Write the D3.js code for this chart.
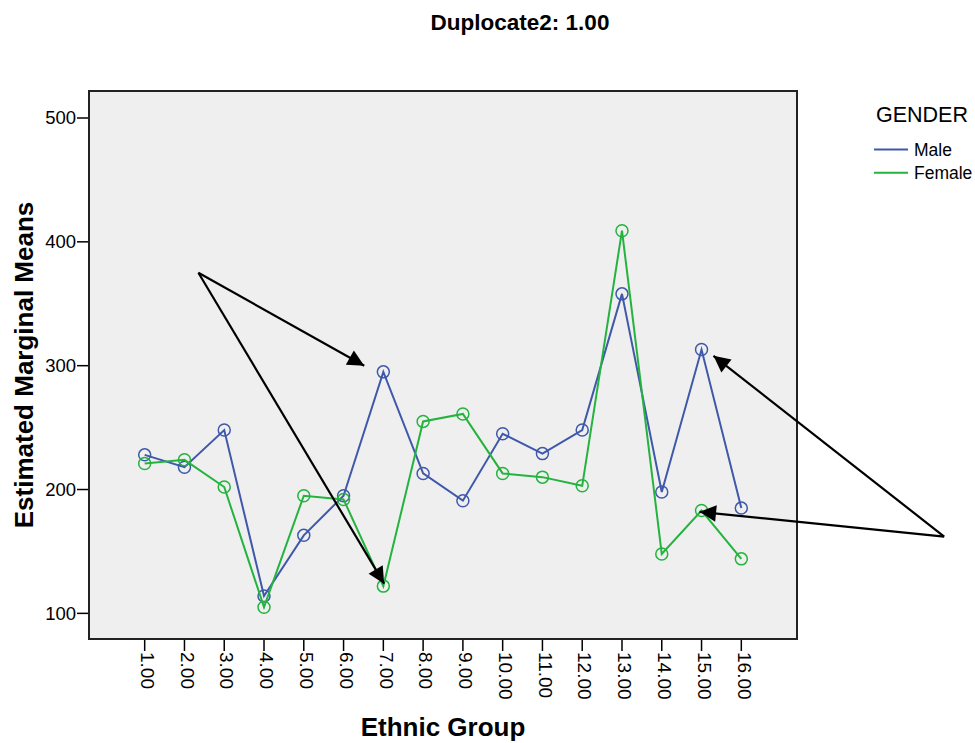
<!DOCTYPE html>
<html>
<head>
<meta charset="utf-8">
<script src="https://cdn.jsdelivr.net/npm/d3@7"></script>
<style>
  body { margin: 0; background: #fff; }
  text { font-family: "Liberation Sans", Arial, sans-serif; }
</style>
</head>
<body>
<svg id="chart" width="975" height="743"></svg>
<script>
// ethnic groups 1..16
var groups = ['1.00', '2.00', '3.00', '4.00', '5.00', '6.00', '7.00', '8.00',
  '9.00', '10.00', '11.00', '12.00', '13.00', '14.00', '15.00', '16.00'];

var maleMeans = [228, 218, 248, 114, 163, 195, 295, 213, 191, 245, 229, 248, 358, 198, 313, 185];
var femaleMeans = [221, 224, 202, 105, 195, 192, 122, 255, 261, 213, 210, 203, 409, 148, 183, 144];

var yTicks = [100, 200, 300, 400, 500];

// arrows: [from group pos, from value, to group pos, to value]
var arrows = [
  [2.35, 375, 6.52, 300],
  [2.35, 375, 7.02, 124],
  [21.1, 162, 15.3, 308],
  [21.1, 162, 14.95, 182]
];

var series = [
  { name: 'Male', values: maleMeans, color: '#3f58aa' },
  { name: 'Female', values: femaleMeans, color: '#24b33e' }
];

var svg = d3.select('#chart');
// note: "top" is taken by window.top, so use plot* names
var plotLeft = 89, plotRight = 797, plotTop = 91, plotBottom = 639;

var x = d3.scalePoint().domain(groups).range([plotLeft, plotRight]).padding(1.4);
var xPos = d3.scaleLinear().domain([1, 16]).range([x(groups[0]), x(groups[15])]);
var y = d3.scaleLinear().domain([79.3, 521.8]).range([plotBottom, plotTop]);

svg.append('defs').append('marker')
  .attr('id', 'head')
  .attr('viewBox', '0 0 10 10')
  .attr('refX', 10).attr('refY', 5)
  .attr('markerWidth', 9).attr('markerHeight', 7.5)
  .attr('markerUnits', 'strokeWidth')
  .attr('orient', 'auto')
  .append('path').attr('d', 'M0,0L10,5L0,10Z').attr('fill', '#000');

// plot area
svg.append('rect')
  .attr('x', plotLeft).attr('y', plotTop)
  .attr('width', plotRight - plotLeft).attr('height', plotBottom - plotTop)
  .attr('fill', '#efefef');

// y ticks
svg.selectAll('.ytick').data(yTicks).enter().append('line')
  .attr('x1', plotLeft - 12).attr('x2', plotLeft)
  .attr('y1', y).attr('y2', y)
  .attr('stroke', '#000').attr('stroke-width', 1.5);
svg.selectAll('.ylab').data(yTicks).enter().append('text')
  .attr('x', plotLeft - 13).attr('y', y).attr('dy', '0.35em')
  .attr('text-anchor', 'end').attr('font-size', 18.5)
  .text(function(d) { return d; });

// x ticks
svg.selectAll('.xtick').data(groups).enter().append('line')
  .attr('x1', x).attr('x2', x)
  .attr('y1', plotBottom).attr('y2', plotBottom + 12)
  .attr('stroke', '#000').attr('stroke-width', 1.5);
svg.selectAll('.xlab').data(groups).enter().append('text')
  .attr('transform', function(d) { return 'translate(' + x(d) + ',' + (plotBottom + 13) + ') rotate(90)'; })
  .attr('dy', '0.2em')
  .attr('text-anchor', 'start').attr('font-size', 19)
  .text(function(d) { return d; });

// lines + circles
var line = d3.line()
  .x(function(d, i) { return x(groups[i]); })
  .y(function(d) { return y(d); });

series.forEach(function(s) {
  svg.append('path')
    .attr('d', line(s.values))
    .attr('fill', 'none')
    .attr('stroke', s.color)
    .attr('stroke-width', 2);
  svg.selectAll(null).data(s.values).enter().append('circle')
    .attr('cx', function(d, i) { return x(groups[i]); })
    .attr('cy', y)
    .attr('r', 6)
    .attr('fill', 'none')
    .attr('stroke', s.color)
    .attr('stroke-width', 1.5);
});

// frame
svg.append('rect')
  .attr('x', plotLeft).attr('y', plotTop)
  .attr('width', plotRight - plotLeft).attr('height', plotBottom - plotTop)
  .attr('fill', 'none').attr('stroke', '#222').attr('stroke-width', 2);

// annotation arrows
svg.selectAll('.arrow').data(arrows).enter().append('line')
  .attr('x1', function(d) { return xPos(d[0]); })
  .attr('y1', function(d) { return y(d[1]); })
  .attr('x2', function(d) { return xPos(d[2]); })
  .attr('y2', function(d) { return y(d[3]); })
  .attr('stroke', '#000').attr('stroke-width', 2.2)
  .attr('marker-end', 'url(#head)');

// titles
svg.append('text')
  .attr('x', 520).attr('y', 30)
  .attr('text-anchor', 'middle').attr('font-size', 22.5).attr('font-weight', 'bold')
  .text('Duplocate2: 1.00');

svg.append('text')
  .attr('x', 443).attr('y', 736)
  .attr('text-anchor', 'middle').attr('font-size', 26).attr('font-weight', 'bold')
  .text('Ethnic Group');

svg.append('text')
  .attr('transform', 'translate(33,365) rotate(-90)')
  .attr('text-anchor', 'middle').attr('font-size', 26).attr('font-weight', 'bold')
  .text('Estimated Marginal Means');

// legend
svg.append('text')
  .attr('x', 876).attr('y', 122)
  .attr('font-size', 21.5)
  .text('GENDER');

var leg = svg.selectAll('.leg').data(series).enter().append('g')
  .attr('transform', function(d, i) { return 'translate(874,' + (149.5 + i * 23.3) + ')'; });
leg.append('line')
  .attr('x1', 0).attr('x2', 34)
  .attr('stroke', function(d) { return d.color; }).attr('stroke-width', 2);
leg.append('text')
  .attr('x', 40).attr('dy', '0.38em').attr('font-size', 17.5)
  .text(function(d) { return d.name; });
</script>
</body>
</html>
